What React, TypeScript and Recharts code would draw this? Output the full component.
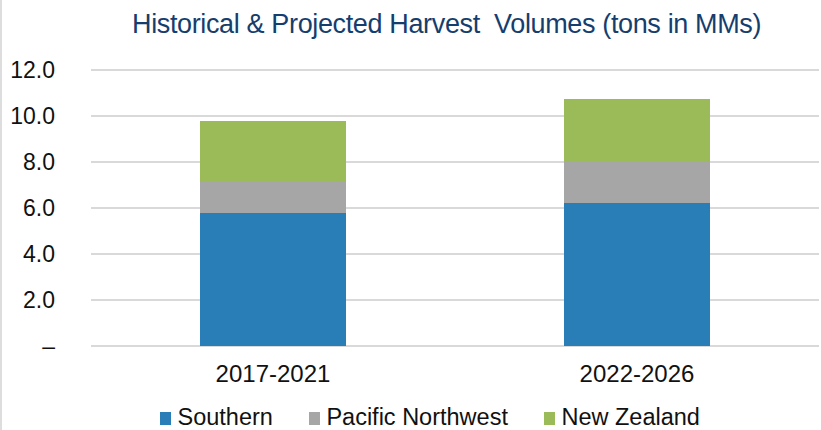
import React from 'react';
import { BarChart, Bar, XAxis, YAxis, CartesianGrid, Legend } from 'recharts';

const categories = ['2017-2021', '2022-2026'];
const southern = [5.78, 6.22];
const pacificNorthwest = [1.39, 1.82];
const newZealand = [2.61, 2.7];
const yTicks = [0, 2, 4, 6, 8, 10, 12];

const seriesInfo = [
  { key: 'southern', name: 'Southern', color: '#2A7EB8' },
  { key: 'pnw', name: 'Pacific Northwest', color: '#A6A6A6' },
  { key: 'nz', name: 'New Zealand', color: '#9BBB59' },
];

const data = categories.map((c, i) => ({
  category: c,
  southern: southern[i],
  pnw: pacificNorthwest[i],
  nz: newZealand[i],
}));

const FONT = '"Liberation Sans", Arial, sans-serif';

const LegendContent = () => (
  <div style={{ height: 26, position: 'relative' }}>
    <div
      style={{
        position: 'absolute',
        top: 2.9,
        left: 160,
        fontFamily: FONT,
        fontSize: 23.5,
        lineHeight: '20px',
        color: '#111',
        whiteSpace: 'nowrap',
      }}
    >
      {seriesInfo.map((s) => (
        <span key={s.key} style={{ marginRight: 36 }}>
          <span
            style={{
              display: 'inline-block',
              width: 11,
              height: 13,
              background: s.color,
              marginRight: 6.5,
              verticalAlign: 'baseline',
            }}
          />
          {s.name}
        </span>
      ))}
    </div>
  </div>
);

export default function App() {
  return (
    <div
      style={{
        position: 'absolute',
        left: 0,
        top: 0,
        width: 821,
        height: 430,
        background: '#fff',
        fontFamily: FONT,
        overflow: 'hidden',
      }}
    >
      <div
        style={{
          position: 'absolute',
          left: 0,
          top: 0,
          width: 2,
          height: 430,
          background: '#DDDDDD',
        }}
      />
      <div
        style={{
          position: 'absolute',
          left: 132,
          top: 10.5,
          fontSize: 27,
          lineHeight: '27px',
          letterSpacing: -0.36,
          color: '#153E6E',
          whiteSpace: 'pre',
          fontFamily: FONT,
        }}
      >
        {'Historical & Projected Harvest  Volumes (tons in MMs)'}
      </div>
      <BarChart
        width={821}
        height={430}
        data={data}
        margin={{ top: 70, right: 2, bottom: 0, left: 0 }}
        barSize={146}
      >
        <CartesianGrid vertical={false} stroke="#D9D9D9" strokeWidth={2} />
        <XAxis
          dataKey="category"
          axisLine={false}
          tickLine={false}
          tickSize={0}
          tickMargin={19}
          height={58}
          tick={{ fontSize: 24, fill: '#111', fontFamily: FONT }}
        />
        <YAxis
          width={91}
          domain={[0, 12]}
          ticks={yTicks}
          axisLine={false}
          tickLine={false}
          tickSize={0}
          tickMargin={36}
          interval={0}
          tickFormatter={(v: number) => (v === 0 ? '–' : v.toFixed(1))}
          tick={{ fontSize: 23, fill: '#111', fontFamily: FONT }}
        />
        <Legend verticalAlign="bottom" height={26} content={<LegendContent />} />
        {seriesInfo.map((s) => (
          <Bar
            key={s.key}
            dataKey={s.key}
            name={s.name}
            stackId="a"
            fill={s.color}
            isAnimationActive={false}
          />
        ))}
      </BarChart>
    </div>
  );
}
